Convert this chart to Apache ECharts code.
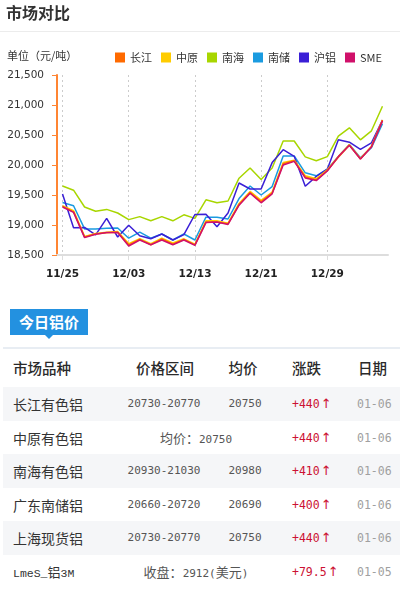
<!DOCTYPE html>
<html>
<head>
<meta charset="utf-8">
<script src="https://cdn.jsdelivr.net/npm/echarts@6/dist/echarts.min.js"></script>
<style>
  html, body { margin: 0; padding: 0; background: #fff; }
  body { width: 400px; height: 589px; position: relative; overflow: hidden;
         font-family: "Noto Sans CJK SC", "Noto Sans", sans-serif; }
  #head { position: absolute; left: 6px; top: 1px; font-size: 16px; font-weight: bold; color: #333; line-height: 22px; }
  #headLine { position: absolute; left: 0; top: 31px; width: 400px; height: 1px; background: #ececec; }
  #chart { position: absolute; left: 0; top: 0; width: 400px; height: 300px; }
  #tag { position: absolute; left: 10px; top: 309px; width: 78px; height: 26px; background: #2391e0;
         color: #fff; font-size: 15px; font-weight: bold; line-height: 26px; text-align: center; }
  #tag:after { content: ""; position: absolute; left: 35px; top: 26px; border-left: 4px solid transparent;
               border-right: 4px solid transparent; border-top: 4px solid #2391e0; }
  #tabLine { position: absolute; left: 3px; top: 347px; width: 397px; height: 2px; background: #e8edf3; }
  .row { position: absolute; left: 3px; width: 397px; }
  .row.alt { background: #f5f6f8; }
  .cell { position: absolute; top: 0; white-space: nowrap; }
  .hd { font-size: 14.5px; color: #2a2a2a; font-weight: 500; }
  .name { font-size: 14px; color: #333; }
  .num { font-family: "DejaVu Sans Mono", "Noto Sans CJK SC", monospace; font-size: 11px; color: #555; }
  .cjk { font-family: "Noto Sans CJK SC", sans-serif; font-size: 13px; }
  .chgcell { font-family: "DejaVu Sans Mono", monospace; font-size: 11.5px; color: #cc1133; }
  .arr { font-family: "DejaVu Sans", sans-serif; font-size: 13px; color: #cc1133; margin-left: 1px; }
  .date { font-family: "DejaVu Sans Mono", monospace; font-size: 11.5px; color: #a0a0a0; }
  .lme { font-family: "Liberation Mono", "Noto Sans CJK SC", monospace; font-size: 11.5px; color: #333; }
</style>
</head>
<body>
<div id="chart"></div>
<div id="head">市场对比</div>
<div id="headLine"></div>
<div id="tag">今日铝价</div>
<div id="tabLine"></div>
<div id="table"></div>
<script>
// Trading days on the category axis
const dates = ['11/25','11/26','11/27','11/30','12/01','12/02','12/03','12/04','12/07','12/08',
               '12/09','12/10','12/13','12/14','12/15','12/16','12/17','12/18','12/21','12/22',
               '12/23','12/24','12/25','12/28','12/29','12/30','12/31','01/04','01/05','01/06'];

// Aluminium spot prices by market (元/吨)
const changjiang = [19310,19220,18800,18850,18870,18880,18670,18760,18670,18770,
                    18680,18760,18670,19050,19050,19020,19340,19540,19390,19530,
                    20020,20070,19800,19750,19910,20130,20330,20100,20310,20750];
const zhongyuan  = [19320,19240,18810,18860,18880,18890,18690,18770,18690,18780,
                    18700,18770,18680,19070,19070,19030,19360,19560,19410,19550,
                    20040,20080,19820,19770,19920,20140,20340,20110,20310,20750];
const nanhai     = [19650,19580,19300,19230,19260,19200,19090,19140,19070,19140,
                    19070,19170,19110,19420,19370,19400,19780,19950,19760,19950,
                    20400,20400,20135,20070,20140,20480,20620,20420,20570,20980];
const nanchu     = [19375,19320,18935,18935,18945,18950,18780,18880,18780,18850,
                    18750,18850,18750,19130,19130,19100,19440,19650,19500,19640,
                    20150,20150,19870,19820,19930,20140,20340,20120,20290,20690];
const hulv       = [19515,18955,18960,18835,19110,18800,18995,18820,18770,18850,
                    18750,18840,19175,19180,18970,19200,19700,19600,19600,20040,
                    20255,20145,19645,19810,19930,20420,20380,20260,20370,20750];
const sme        = [19300,19210,18790,18845,18875,18875,18650,18750,18670,18750,
                    18670,18750,18660,19040,19050,19010,19330,19530,19370,19520,
                    20000,20060,19785,19740,19900,20140,20330,20100,20300,20735];

const legendNames = ['长江','中原','南海','南储','沪铝','SME'];
const yTicks = { min: 18500, max: 21500, step: 500 };

// Today's price table
const tableHeader = ['市场品种','价格区间','均价','涨跌','日期'];
const marketNames = ['长江有色铝','中原有色铝','南海有色铝','广东南储铝','上海现货铝','LmeS_铝3M'];
const priceRanges = ['20730-20770', null, '20930-21030', '20660-20720', '20730-20770', null];
const avgPrices   = ['20750', null, '20980', '20690', '20750', null];
const mergedNotes = [null, ['均价：', '20750', ''], null, null, null, ['收盘：', '2912(', '美元)']];
const changes     = ['+440','+440','+410','+400','+440','+79.5'];
const priceDates  = ['01-06','01-06','01-06','01-06','01-06','01-05'];

const colors = {
  '长江': '#ff6a00', '中原': '#ffcc00', '南海': '#a8d600',
  '南储': '#1a9be0', '沪铝': '#3a1fd6', 'SME': '#d0106a'
};
const seriesData = {
  '南海': nanhai, '南储': nanchu, '沪铝': hulv, '中原': zhongyuan, '长江': changjiang, 'SME': sme
};

const chart = echarts.init(document.getElementById('chart'), null, { renderer: 'canvas' });
const axisFont = 'DejaVu Sans, Verdana, sans-serif';

chart.setOption({
  animation: false,
  title: {
    text: '单位（元/吨）', left: 2, top: 45,
    textStyle: { fontSize: 11, fontWeight: 'normal', color: '#333', fontFamily: 'Noto Sans CJK SC' }
  },
  legend: {
    data: legendNames, left: 110, top: 47, icon: 'rect',
    itemWidth: 10, itemHeight: 10, itemGap: 9,
    textStyle: { fontSize: 11, color: '#333', fontFamily: 'Noto Sans CJK SC, DejaVu Sans' }
  },
  grid: { left: 57, right: 12, top: 75, height: 180, containLabel: false },
  xAxis: {
    type: 'category', data: dates, boundaryGap: true,
    axisLine: { show: true, lineStyle: { color: '#dddddd', width: 2 } },
    axisTick: { show: true, alignWithLabel: true, interval: 5, length: 5, lineStyle: { color: '#dddddd' } },
    axisLabel: { interval: 5, margin: 14, fontSize: 10.5, fontWeight: 'bold', color: '#222', fontFamily: axisFont },
    splitLine: { show: true, interval: 5, alignWithLabel: true, lineStyle: { color: '#cccccc', type: [2, 3], width: 1 } }
  },
  yAxis: {
    type: 'value', min: yTicks.min, max: yTicks.max, interval: yTicks.step,
    axisLine: { show: true, lineStyle: { color: '#ff8533', width: 2 } },
    axisTick: { show: true, inside: false, length: 5, lineStyle: { color: '#ff8533', width: 1 } },
    axisLabel: {
      margin: 13, fontSize: 10.5, color: '#333', fontFamily: axisFont,
      formatter: v => v.toLocaleString('en-US')
    },
    splitLine: { show: false }
  },
  series: Object.keys(seriesData).map(name => ({
    name, type: 'line', data: seriesData[name],
    symbol: 'none', showSymbol: false,
    lineStyle: { width: 1.5, color: colors[name] },
    itemStyle: { color: colors[name] }
  }))
});

// Build the price table
const table = document.getElementById('table');
function addRow(top, height, alt) {
  const r = document.createElement('div');
  r.className = 'row' + (alt ? ' alt' : '');
  r.style.top = top + 'px';
  r.style.height = height + 'px';
  table.appendChild(r);
  return r;
}
function addCell(row, html, cls, x, align, height) {
  const c = document.createElement('div');
  c.className = 'cell ' + cls;
  c.innerHTML = html;
  c.style.lineHeight = height + 'px';
  if (align === 'center') {
    c.style.left = (x - 3 - 100) + 'px';
    c.style.width = '200px';
    c.style.textAlign = 'center';
  } else {
    c.style.left = (x - 3) + 'px';
  }
  row.appendChild(c);
}

const hdRow = addRow(349, 38, false);
addCell(hdRow, tableHeader[0], 'hd', 13, 'left', 38);
addCell(hdRow, tableHeader[1], 'hd', 165, 'center', 38);
addCell(hdRow, tableHeader[2], 'hd', 243, 'center', 38);
addCell(hdRow, tableHeader[3], 'hd', 292, 'left', 38);
addCell(hdRow, tableHeader[4], 'hd', 358, 'left', 38);

const rowTops = [387, 420.5, 454, 487.5, 521, 555];
const rowH = 34;
marketNames.forEach((name, i) => {
  const row = addRow(rowTops[i], rowH, i % 2 === 0);
  const nameCls = i === 5 ? 'lme' : 'name';
  const nameHtml = i === 5 ? 'LmeS_<span class="cjk" style="font-size:13px">铝</span>3M' : name;
  addCell(row, nameHtml, nameCls, 13, 'left', rowH);
  if (mergedNotes[i]) {
    const m = mergedNotes[i];
    addCell(row, '<span class="cjk">' + m[0] + '</span>' + m[1] +
                 (m[2] ? '<span class="cjk">' + m[2].replace(')', '') + '</span>)' : ''),
            'num', 196, 'center', rowH);
  } else {
    addCell(row, priceRanges[i], 'num', 164, 'center', rowH);
    addCell(row, avgPrices[i], 'num', 245, 'center', rowH);
  }
  addCell(row, changes[i] + '<span class="arr">↑</span>', 'chgcell', 292, 'left', rowH);
  addCell(row, priceDates[i], 'date', 357, 'left', rowH);
});
</script>
</body>
</html>
